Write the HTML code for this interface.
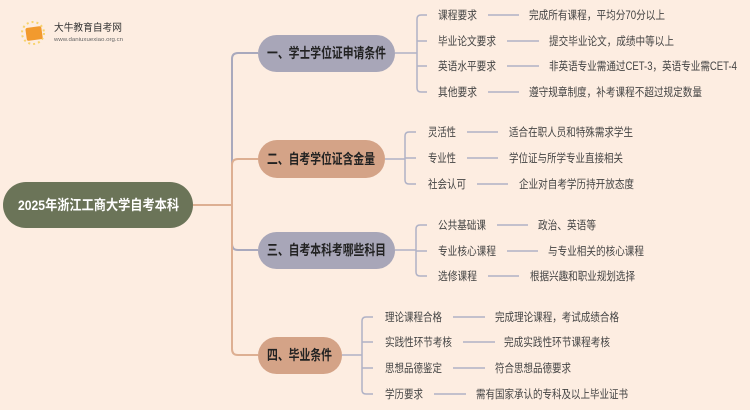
<!DOCTYPE html>
<html><head><meta charset="utf-8"><style>
html,body{margin:0;padding:0;background:#fdede1;}
svg{display:block;font-family:"Liberation Sans","Noto Sans CJK SC",sans-serif;}
.l{font-size:11.5px;fill:#444;}
.n{font-size:14px;font-weight:bold;fill:#222;}
</style></head><body>
<svg width="750" height="410" viewBox="0 0 750 410" xmlns="http://www.w3.org/2000/svg">
<rect width="750" height="410" fill="#fdede1"/>
<circle cx="33" cy="33" r="11" fill="none" stroke="#f7d36b" stroke-width="2" stroke-dasharray="2 3"/>
<rect x="26" y="27" width="16" height="13" rx="2" fill="#f29a2e" transform="rotate(-8 34 33)"/>
<text x="54" y="31" font-size="10" fill="#333" textLength="68" lengthAdjust="spacingAndGlyphs">大牛教育自考网</text>
<text x="54" y="41" font-size="5" fill="#666" textLength="69" lengthAdjust="spacingAndGlyphs">www.daniuxuexiao.org.cn</text>
<g fill="none" stroke-width="2">
<path d="M193 205 H232 V59 Q232 53 238 53 H258" stroke="#a9a9bd"/>
<path d="M193 205 H232 V165 Q232 159 238 159 H258" stroke="#ddaf92"/>
<path d="M232 205 V244 Q232 250 238 250 H258" stroke="#a9a9bd"/>
<path d="M232 205 V349 Q232 355 238 355 H258" stroke="#ddaf92"/>
</g>
<g fill="none" stroke="#b0b2c6" stroke-width="1.5">
<path d="M395 53 H417 M427 15 H421 Q417 15 417 19 V88 Q417 92 421 92 H427 M417 41 H427 M417 66 H427"/>
<path d="M385 159 H405 M416 132 H409 Q405 132 405 136 V180 Q405 184 409 184 H416 M405 158 H416"/>
<path d="M395 250 H416 M427 225 H420 Q416 225 416 229 V272 Q416 276 420 276 H427 M416 251 H427"/>
<path d="M342 355 H362 M373 317 H366 Q362 317 362 321 V390 Q362 394 366 394 H373 M362 342 H373 M362 368 H373"/>
<path d="M488 15 H519 M507 41 H539 M507 66 H539 M488 92 H519"/>
<path d="M467 132 H498 M467 158 H498 M477 184 H508"/>
<path d="M497 225 H528 M507 251 H538 M488 276 H519"/>
<path d="M453 317 H485 M463 342 H495 M453 368 H485 M434 394 H466"/>
</g>
<rect x="3" y="182" width="190" height="46" rx="23" fill="#6b7458"/>
<text x="18" y="210" font-size="14" font-weight="bold" fill="#fff" textLength="161" lengthAdjust="spacingAndGlyphs">2025年浙江工商大学自考本科</text>
<rect x="258" y="35" width="137" height="37" rx="18.5" fill="#a8a6b8"/>
<text x="267" y="58" class="n" textLength="119" lengthAdjust="spacingAndGlyphs">一、学士学位证申请条件</text>
<rect x="258" y="140" width="127" height="38" rx="19" fill="#d4a387"/>
<text x="267" y="164" class="n" textLength="108" lengthAdjust="spacingAndGlyphs">二、自考学位证含金量</text>
<rect x="258" y="232" width="137" height="37" rx="18.5" fill="#a8a6b8"/>
<text x="267" y="255" class="n" textLength="119" lengthAdjust="spacingAndGlyphs">三、自考本科考哪些科目</text>
<rect x="258" y="337" width="84" height="37" rx="18.5" fill="#d4a387"/>
<text x="267" y="360" class="n" textLength="65" lengthAdjust="spacingAndGlyphs">四、毕业条件</text>
<g class="l">
<text x="438" y="19" textLength="39" lengthAdjust="spacingAndGlyphs">课程要求</text><text x="529" y="19" textLength="136" lengthAdjust="spacingAndGlyphs">完成所有课程，平均分70分以上</text>
<text x="438" y="45" textLength="58" lengthAdjust="spacingAndGlyphs">毕业论文要求</text><text x="549" y="45" textLength="125" lengthAdjust="spacingAndGlyphs">提交毕业论文，成绩中等以上</text>
<text x="438" y="70" textLength="58" lengthAdjust="spacingAndGlyphs">英语水平要求</text><text x="549" y="70" textLength="188" lengthAdjust="spacingAndGlyphs">非英语专业需通过CET-3，英语专业需CET-4</text>
<text x="438" y="96" textLength="39" lengthAdjust="spacingAndGlyphs">其他要求</text><text x="529" y="96" textLength="173" lengthAdjust="spacingAndGlyphs">遵守规章制度，补考课程不超过规定数量</text>

<text x="428" y="136" textLength="28" lengthAdjust="spacingAndGlyphs">灵活性</text><text x="509" y="136" textLength="124" lengthAdjust="spacingAndGlyphs">适合在职人员和特殊需求学生</text>
<text x="428" y="162" textLength="28" lengthAdjust="spacingAndGlyphs">专业性</text><text x="509" y="162" textLength="114" lengthAdjust="spacingAndGlyphs">学位证与所学专业直接相关</text>
<text x="428" y="188" textLength="38" lengthAdjust="spacingAndGlyphs">社会认可</text><text x="519" y="188" textLength="115" lengthAdjust="spacingAndGlyphs">企业对自考学历持开放态度</text>

<text x="438" y="229" textLength="48" lengthAdjust="spacingAndGlyphs">公共基础课</text><text x="538" y="229" textLength="58" lengthAdjust="spacingAndGlyphs">政治、英语等</text>
<text x="438" y="255" textLength="58" lengthAdjust="spacingAndGlyphs">专业核心课程</text><text x="548" y="255" textLength="96" lengthAdjust="spacingAndGlyphs">与专业相关的核心课程</text>
<text x="438" y="280" textLength="39" lengthAdjust="spacingAndGlyphs">选修课程</text><text x="530" y="280" textLength="105" lengthAdjust="spacingAndGlyphs">根据兴趣和职业规划选择</text>

<text x="385" y="321" textLength="57" lengthAdjust="spacingAndGlyphs">理论课程合格</text><text x="495" y="321" textLength="124" lengthAdjust="spacingAndGlyphs">完成理论课程，考试成绩合格</text>
<text x="385" y="346" textLength="67" lengthAdjust="spacingAndGlyphs">实践性环节考核</text><text x="504" y="346" textLength="106" lengthAdjust="spacingAndGlyphs">完成实践性环节课程考核</text>
<text x="385" y="372" textLength="57" lengthAdjust="spacingAndGlyphs">思想品德鉴定</text><text x="495" y="372" textLength="76" lengthAdjust="spacingAndGlyphs">符合思想品德要求</text>
<text x="385" y="398" textLength="38" lengthAdjust="spacingAndGlyphs">学历要求</text><text x="476" y="398" textLength="152" lengthAdjust="spacingAndGlyphs">需有国家承认的专科及以上毕业证书</text>
</g>
</svg>
</body></html>
